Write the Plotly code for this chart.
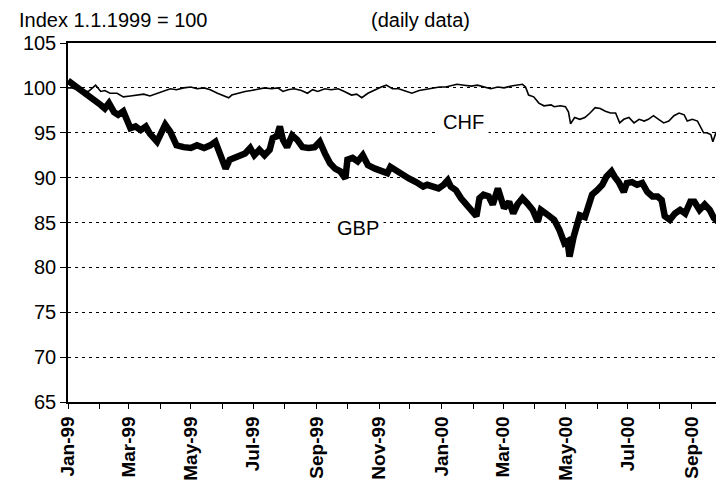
import plotly.graph_objects as go

gbp_dates = [
    "1999-01-01", "1999-01-07", "1999-01-13", "1999-01-20", "1999-01-26", "1999-02-02", "1999-02-06",
    "1999-02-10", "1999-02-15", "1999-02-19", "1999-02-24", "1999-02-28", "1999-03-03", "1999-03-08",
    "1999-03-13", "1999-03-18", "1999-03-22", "1999-03-29", "1999-04-03", "1999-04-06", "1999-04-11",
    "1999-04-17", "1999-04-24", "1999-05-01", "1999-05-07", "1999-05-14", "1999-05-20", "1999-05-25",
    "1999-05-28", "1999-06-01", "1999-06-04", "1999-06-08", "1999-06-13", "1999-06-18", "1999-06-23",
    "1999-06-28", "1999-07-02", "1999-07-07", "1999-07-12", "1999-07-17", "1999-07-20", "1999-07-24",
    "1999-07-27", "1999-07-30", "1999-08-03", "1999-08-08", "1999-08-13", "1999-08-18", "1999-08-24",
    "1999-08-30", "1999-09-04", "1999-09-09", "1999-09-14", "1999-09-19", "1999-09-24", "1999-09-29",
    "1999-10-01", "1999-10-06", "1999-10-11", "1999-10-16", "1999-10-21", "1999-10-28", "1999-11-03",
    "1999-11-09", "1999-11-12", "1999-11-17", "1999-11-24", "1999-11-30", "1999-12-07", "1999-12-14",
    "1999-12-18", "1999-12-23", "1999-12-29", "2000-01-03", "2000-01-07", "2000-01-10", "2000-01-15",
    "2000-01-20", "2000-01-25", "2000-01-30", "2000-02-04", "2000-02-07", "2000-02-11", "2000-02-16",
    "2000-02-20", "2000-02-25", "2000-02-28", "2000-03-02", "2000-03-07", "2000-03-11", "2000-03-15",
    "2000-03-20", "2000-03-25", "2000-03-30", "2000-04-04", "2000-04-07", "2000-04-12", "2000-04-17",
    "2000-04-20", "2000-04-25", "2000-04-30", "2000-05-03", "2000-05-05", "2000-05-09", "2000-05-12",
    "2000-05-15", "2000-05-20", "2000-05-24", "2000-05-27", "2000-06-01", "2000-06-06", "2000-06-10",
    "2000-06-15", "2000-06-18", "2000-06-22", "2000-06-27", "2000-06-30", "2000-07-05", "2000-07-10",
    "2000-07-15", "2000-07-20", "2000-07-25", "2000-07-30", "2000-08-03", "2000-08-06", "2000-08-11",
    "2000-08-16", "2000-08-21", "2000-08-26", "2000-08-31", "2000-09-04", "2000-09-09", "2000-09-14",
    "2000-09-19", "2000-09-23", "2000-09-28",
]
gbp_values = [
    100.8, 100.3, 99.8, 99.4, 98.8, 98.1, 97.7,
    98.3, 97.3, 97.0, 97.4, 96.4, 95.5, 95.7,
    95.3, 95.7, 94.9, 94.0, 95.5, 95.9, 95.1,
    93.6, 93.4, 93.3, 93.6, 93.3, 93.6, 94.0,
    93.1, 91.8, 91.0, 92.0, 92.2, 92.5, 92.7,
    93.3, 92.5, 93.1, 92.5, 93.1, 94.4, 94.6,
    95.7, 94.2, 93.4, 94.7, 94.2, 93.4, 93.3,
    93.4, 94.0, 92.7, 91.6, 91.0, 90.7, 89.9,
    92.0, 92.2, 91.8, 92.5, 91.4, 91.0, 90.8,
    90.5, 91.2, 90.8, 90.3, 89.9, 89.5, 89.0,
    89.2, 89.0, 88.8, 89.2, 89.7, 89.0, 88.6,
    87.7, 87.0, 86.4, 85.7, 87.7, 88.1, 87.9,
    87.0, 88.8, 87.7, 86.6, 87.3, 86.0, 87.0,
    87.7, 87.1, 86.4, 85.1, 86.4, 86.0, 85.5,
    85.3, 84.2, 82.7, 82.9, 81.2, 83.4, 84.5,
    85.8, 85.6, 86.8, 88.1, 88.6, 89.2, 90.1,
    90.7, 90.1, 89.5, 88.4, 89.4, 89.5, 89.2,
    89.4, 88.4, 87.9, 87.9, 87.5, 85.7, 85.3,
    86.0, 86.4, 86.0, 87.3, 87.3, 86.4, 87.0,
    86.4, 85.5, 85.0,
]

chf_dates = [
    "1999-01-01", "1999-01-05", "1999-01-13", "1999-01-21", "1999-01-28", "1999-02-02", "1999-02-06",
    "1999-02-11", "1999-02-18", "1999-02-24", "1999-03-03", "1999-03-09", "1999-03-16", "1999-03-22",
    "1999-03-29", "1999-04-04", "1999-04-11", "1999-04-17", "1999-04-24", "1999-05-01", "1999-05-07",
    "1999-05-14", "1999-05-20", "1999-05-27", "1999-06-02", "1999-06-07", "1999-06-10", "1999-06-16",
    "1999-06-23", "1999-06-29", "1999-07-06", "1999-07-12", "1999-07-19", "1999-07-25", "1999-07-30",
    "1999-08-04", "1999-08-10", "1999-08-17", "1999-08-23", "1999-08-28", "1999-09-02", "1999-09-09",
    "1999-09-15", "1999-09-22", "1999-09-28", "1999-10-05", "1999-10-10", "1999-10-15", "1999-10-21",
    "1999-10-28", "1999-11-03", "1999-11-08", "1999-11-14", "1999-11-20", "1999-11-27", "1999-12-03",
    "1999-12-10", "1999-12-16", "1999-12-23", "1999-12-30", "2000-01-05", "2000-01-12", "2000-01-16",
    "2000-01-23", "2000-01-30", "2000-02-05", "2000-02-11", "2000-02-18", "2000-02-25", "2000-03-02",
    "2000-03-09", "2000-03-15", "2000-03-20", "2000-03-23", "2000-03-26", "2000-03-31", "2000-04-05",
    "2000-04-10", "2000-04-17", "2000-04-20", "2000-04-26", "2000-05-01", "2000-05-04", "2000-05-06",
    "2000-05-10", "2000-05-15", "2000-05-20", "2000-05-25", "2000-05-30", "2000-06-04", "2000-06-09",
    "2000-06-14", "2000-06-19", "2000-06-23", "2000-06-27", "2000-07-02", "2000-07-07", "2000-07-12",
    "2000-07-17", "2000-07-21", "2000-07-26", "2000-07-31", "2000-08-05", "2000-08-10", "2000-08-15",
    "2000-08-20", "2000-08-25", "2000-08-28", "2000-09-02", "2000-09-07", "2000-09-10", "2000-09-13",
    "2000-09-16", "2000-09-20", "2000-09-22", "2000-09-25", "2000-09-28",
]
chf_values = [
    100.0, 100.0, 99.7, 99.6, 100.3, 99.6, 99.7,
    99.4, 99.4, 99.0, 99.1, 99.2, 99.3, 99.1,
    99.4, 99.6, 99.9, 99.8, 100.0, 100.1, 99.9,
    100.0, 99.8, 99.4, 99.1, 98.9, 99.2, 99.4,
    99.6, 99.7, 99.9, 100.0, 99.9, 100.0, 99.6,
    99.8, 99.9, 99.7, 99.4, 99.8, 99.6, 99.9,
    99.8, 99.9, 99.6, 99.2, 99.3, 98.9, 99.4,
    99.8, 100.1, 100.3, 99.9, 99.9, 99.6, 99.4,
    99.7, 99.8, 99.9, 100.1, 100.1, 100.3, 100.4,
    100.3, 100.2, 100.3, 100.1, 99.9, 100.1, 100.0,
    100.2, 100.3, 100.4, 100.1, 99.2, 99.0, 98.3,
    98.0, 98.1, 97.9, 98.0, 97.9, 97.3, 96.0,
    96.7, 96.5, 96.7, 97.2, 97.8, 97.7, 97.4,
    97.2, 97.2, 96.1, 96.5, 96.7, 96.1, 96.5,
    96.3, 96.5, 96.9, 96.5, 96.1, 96.3, 96.9,
    97.2, 97.0, 96.3, 96.5, 96.3, 95.7, 95.0,
    95.0, 94.8, 94.0, 95.0, 94.8,
]

y_ticks = [65, 70, 75, 80, 85, 90, 95, 100, 105]
x_range = ["1999-01-01", "2000-09-29"]

FONT = "Liberation Sans, Arial, sans-serif"

fig = go.Figure()
fig.add_trace(go.Scatter(x=chf_dates, y=chf_values, mode="lines", name="CHF",
                         line=dict(color="black", width=1.6)))
fig.add_trace(go.Scatter(x=gbp_dates, y=gbp_values, mode="lines", name="GBP",
                         line=dict(color="black", width=6.5)))

fig.update_layout(
    width=716, height=477,
    margin=dict(l=60, r=4, t=35, b=83, autoexpand=False),
    paper_bgcolor="white", plot_bgcolor="white",
    showlegend=False,
    font=dict(family=FONT, color="black", size=20),
    annotations=[
        dict(text="Index 1.1.1999 = 100", xref="paper", yref="paper", x=-0.078, y=1.065,
             xanchor="left", yanchor="middle", showarrow=False, font=dict(size=20)),
        dict(text="(daily data)", xref="paper", yref="paper", x=0.4617, y=1.065,
             xanchor="left", yanchor="middle", showarrow=False, font=dict(size=20)),
        dict(text="CHF", x="2000-01-22", y=96.2, xref="x", yref="y", showarrow=False,
             font=dict(size=20), bgcolor="white", borderpad=4),
        dict(text="GBP", x="1999-10-11", y=84.4, xref="x", yref="y", showarrow=False,
             font=dict(size=20), bgcolor="white", borderpad=4),
    ],
)

fig.update_xaxes(
    type="date", range=x_range,
    tick0="1999-01-01", dtick="M2", tickformat="%b-%y", tickangle=-90,
    tickfont=dict(size=19, family="Liberation Sans, Arial", weight="bold"),
    ticks="outside", ticklen=5, tickcolor="black", tickwidth=1,
    minor=dict(dtick="M1", ticks="outside", ticklen=5, tickcolor="black", showgrid=False),
    showline=True, linecolor="black", linewidth=1.5, mirror=True,
    showgrid=False, zeroline=False,
)
fig.update_yaxes(
    range=[65, 105], tickvals=y_ticks, ticktext=[str(v) for v in y_ticks],
    tickfont=dict(size=20),
    ticks="outside", ticklen=6, tickcolor="black",
    showline=True, linecolor="black", linewidth=1.5, mirror=True,
    showgrid=True, gridcolor="black", gridwidth=1, griddash="3px,4px",
    zeroline=False,
)

fig.write_html("out.html")
